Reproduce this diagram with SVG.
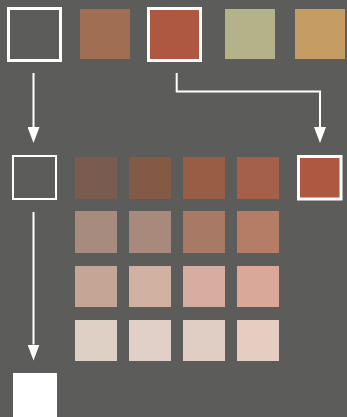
<svg xmlns="http://www.w3.org/2000/svg" width="347" height="417" viewBox="0 0 347 417">
<style>
.sel{stroke:#ffffff;stroke-width:3}
.con{fill:none;stroke:#ffffff;stroke-width:2;marker-end:url(#ah)}
</style>
<defs>
<marker id="ah" markerWidth="16" markerHeight="12" refX="0" refY="6" orient="auto" markerUnits="userSpaceOnUse" viewBox="0 0 16 12">
<path d="M0,0 L16,6 L0,12 Z" fill="#ffffff"/>
</marker>
</defs>
<rect width="347" height="417" fill="#5c5c5a"/>
<g id="connectors">
<line class="con" x1="33.5" y1="73" x2="33.5" y2="127"/>
<polyline class="con" points="176.7,73 176.7,91.5 320,91.5 320,127"/>
<line class="con" x1="33.5" y1="212" x2="33.5" y2="344.5"/>
</g>
<g id="top-empty"><rect x="8.5" y="8.5" width="52" height="52" fill="#5c5c5a" class="sel"/></g>
<g id="top-brown"><rect x="80" y="9" width="50" height="50" fill="#a06f53"/></g>
<g id="top-red"><rect x="148.5" y="8.5" width="52" height="52" fill="#ae5741" class="sel"/></g>
<g id="top-olive"><rect x="225" y="9" width="50" height="50" fill="#b4b288"/></g>
<g id="top-tan"><rect x="295" y="9" width="50" height="50" fill="#c59d64"/></g>
<g id="mid-empty"><rect x="13" y="156" width="43" height="43" fill="#5c5c5a" stroke="#ffffff" stroke-width="2"/></g>
<g id="mid-red"><rect x="298.5" y="156.5" width="42.5" height="42.5" fill="#ae5741" class="sel"/></g>
<g id="grid">
<rect x="75" y="157" width="42" height="42" fill="#7a5b4f"/>
<rect x="129" y="157" width="42" height="42" fill="#835a45"/>
<rect x="183" y="157" width="42" height="42" fill="#985d45"/>
<rect x="237" y="157" width="42" height="42" fill="#a5604a"/>
<rect x="75" y="211" width="42" height="42" fill="#a68b7e"/>
<rect x="129" y="211" width="42" height="42" fill="#a88a7d"/>
<rect x="183" y="211" width="42" height="42" fill="#a87a66"/>
<rect x="237" y="211" width="42" height="42" fill="#b57c66"/>
<rect x="75" y="266" width="42" height="41" fill="#c4a696"/>
<rect x="129" y="266" width="42" height="41" fill="#d0b1a2"/>
<rect x="183" y="266" width="42" height="41" fill="#d6ada0"/>
<rect x="237" y="266" width="42" height="41" fill="#daa898"/>
<rect x="75" y="320" width="42" height="41" fill="#dfd0c5"/>
<rect x="129" y="320" width="42" height="41" fill="#e1d0c7"/>
<rect x="183" y="320" width="42" height="41" fill="#e0cdc4"/>
<rect x="237" y="320" width="42" height="41" fill="#e6cdc2"/>
</g>
<g id="bottom-white"><rect x="13" y="373" width="44" height="44" fill="#ffffff"/></g>
</svg>
